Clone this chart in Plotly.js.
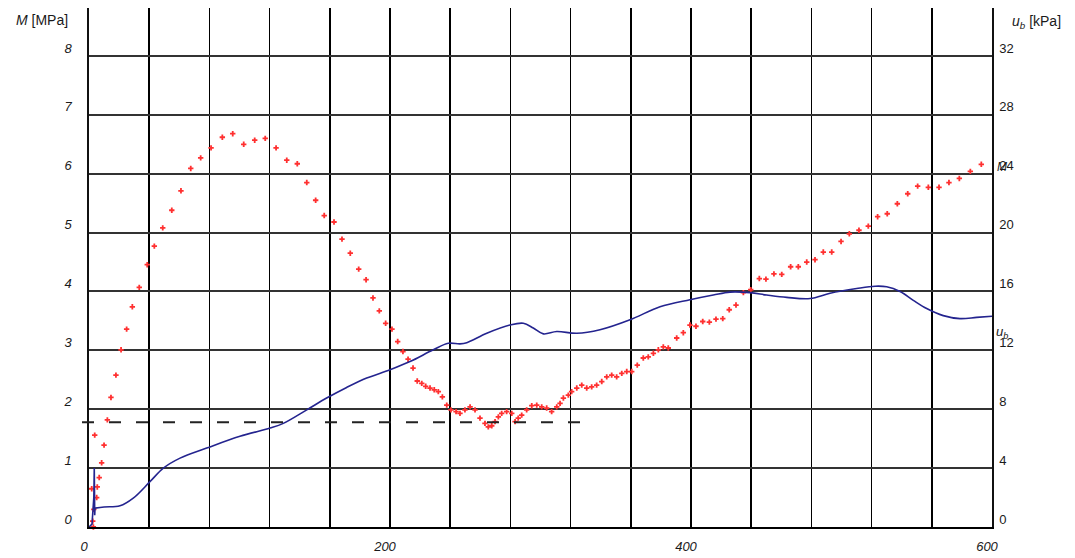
<!DOCTYPE html>
<html>
<head>
<meta charset="utf-8">
<script src="https://cdn.plot.ly/plotly-3.0.1.min.js"></script>
<style>html,body{margin:0;padding:0;background:#fff;}#chart{width:1075px;height:558px;}</style>
</head>
<body>
<div id="chart"></div>
<script>
// M [MPa] measured points (red)
const mX = [1.8, 2.5, 2.9, 3.2, 3.8, 5.1, 5.5, 6.8, 8.4, 10.0, 12.2, 14.6, 17.9, 21.3, 25.0, 28.8, 33.4, 38.7, 43.4, 49.0, 55.0, 61.1, 67.6, 74.2, 81.1, 88.6, 95.5, 102.8, 110.1, 117.1, 124.3, 131.4, 138.4, 144.7, 150.6, 156.3, 162.8, 168.1, 173.6, 179.2, 184.1, 188.7, 192.9, 197.1, 201.3, 205.1, 208.6, 212.0, 215.3, 218.1, 221.1, 223.7, 226.6, 229.4, 232.1, 234.8, 237.7, 240.5, 243.9, 246.5, 249.8, 253.2, 256.5, 259.8, 263.1, 265.3, 267.6, 269.8, 272.0, 274.2, 277.5, 280.9, 283.1, 285.2, 287.5, 290.8, 294.2, 297.5, 300.8, 304.1, 307.4, 310.8, 313.0, 315.2, 318.5, 320.7, 324.1, 327.4, 330.7, 334.0, 337.3, 340.7, 344.0, 347.3, 350.6, 354.0, 357.3, 360.6, 364.3, 368.3, 371.6, 375.0, 378.3, 381.6, 384.9, 390.5, 394.9, 399.3, 403.3, 407.8, 412.2, 416.6, 421.1, 425.4, 429.9, 434.8, 439.7, 445.4, 449.8, 455.1, 460.3, 466.2, 471.3, 476.9, 482.4, 487.9, 493.5, 499.7, 505.2, 511.6, 517.8, 524.0, 530.4, 537.1, 544.0, 550.6, 557.7, 564.8, 571.4, 578.3, 585.6, 592.9, 600.5];
const mY = [0.65, 0.10, 0.00, 0.30, 1.56, 0.50, 0.68, 0.84, 1.09, 1.39, 1.82, 2.20, 2.58, 3.01, 3.36, 3.74, 4.07, 4.455, 4.77, 5.08, 5.38, 5.71, 6.09, 6.27, 6.44, 6.62, 6.68, 6.50, 6.57, 6.60, 6.44, 6.23, 6.17, 5.85, 5.55, 5.29, 5.18, 4.89, 4.65, 4.38, 4.20, 3.89, 3.67, 3.46, 3.36, 3.15, 2.98, 2.85, 2.70, 2.48, 2.44, 2.39, 2.36, 2.33, 2.30, 2.21, 2.07, 1.99, 1.96, 1.93, 1.99, 2.04, 1.99, 1.85, 1.76, 1.70, 1.72, 1.79, 1.87, 1.93, 1.96, 1.93, 1.79, 1.85, 1.90, 1.99, 2.06, 2.07, 2.04, 2.02, 1.96, 2.04, 2.10, 2.19, 2.24, 2.30, 2.36, 2.41, 2.36, 2.38, 2.41, 2.47, 2.55, 2.58, 2.55, 2.61, 2.64, 2.64, 2.75, 2.87, 2.89, 2.95, 3.01, 3.06, 3.04, 3.21, 3.30, 3.43, 3.41, 3.49, 3.48, 3.53, 3.54, 3.69, 3.77, 3.98, 4.03, 4.22, 4.21, 4.30, 4.29, 4.42, 4.42, 4.50, 4.54, 4.67, 4.67, 4.85, 4.98, 5.04, 5.11, 5.27, 5.32, 5.49, 5.66, 5.79, 5.77, 5.77, 5.85, 5.92, 6.04, 6.16, 6.35];

// u_b [kPa] (blue line, right axis)
const ubX = [0, 2, 3.2, 3.5, 3.8, 4.0, 10, 20.6, 29.4, 40.5, 49.4, 60.5, 78.2, 100.3, 120.3, 129.1, 144.7, 157.9, 171.2, 184.5, 200.0, 213.3, 228.8, 238.7, 246.5, 251.0, 264.3, 279.7, 288.6, 295.2, 301.9, 310.8, 324.1, 339.5, 359.5, 379.4, 399.3, 414.8, 425.9, 439.2, 450.3, 463.6, 479.1, 492.4, 510.1, 522.3, 530.0, 538.9, 547.7, 556.6, 567.6, 578.7, 589.8, 600];
const ubY = [0, 0.2, 2.0, 4.0, 0.8, 1.28, 1.36, 1.44, 1.96, 3.08, 4.0, 4.68, 5.36, 6.16, 6.72, 7.04, 7.96, 8.76, 9.48, 10.12, 10.68, 11.24, 12.04, 12.48, 12.44, 12.52, 13.16, 13.72, 13.84, 13.52, 13.12, 13.28, 13.16, 13.4, 14.08, 14.96, 15.44, 15.76, 15.96, 15.92, 15.76, 15.6, 15.52, 15.88, 16.2, 16.36, 16.32, 16.0, 15.4, 14.84, 14.36, 14.16, 14.24, 14.32];
const ubSpikeEnd = 6; // first points: initial spike (straight segments)

// reference level (dashed)
const refLevel = 1.78;
const refXEnd = 330;

const xTicks = [0, 200, 400, 600];
const yTicks = [0, 1, 2, 3, 4, 5, 6, 7, 8];
const y2Ticks = [0, 4, 8, 12, 16, 20, 24, 28, 32];

const yMax = 8.815;
const L = 89, R = 992, T = 8, B = 527;
const px = v => (v - L) / (R - L);
const py = v => (B - v) / (B - T);

const blue = '#24248f';
const traces = [
  {x: ubX.slice(0, ubSpikeEnd), y: ubY.slice(0, ubSpikeEnd), yaxis: 'y2', mode: 'lines', type: 'scatter',
   line: {color: blue, width: 1.6}, cliponaxis: false, showlegend: false},
  {x: ubX.slice(ubSpikeEnd - 1), y: ubY.slice(ubSpikeEnd - 1), yaxis: 'y2', mode: 'lines', type: 'scatter',
   line: {color: blue, width: 1.6, shape: 'spline', smoothing: 1}, cliponaxis: false, showlegend: false},
  {x: mX, y: mY, mode: 'markers', type: 'scatter',
   marker: {symbol: 'cross', size: 4.5, color: '#ff3030', line: {width: 0}},
   cliponaxis: false, showlegend: false}
];

const tickFont = {family: 'Liberation Sans, Arial, sans-serif', size: 13, color: '#1a1a1a'};
const annFont = {family: 'Liberation Sans, Arial, sans-serif', size: 14, color: '#1a1a1a'};

const layout = {
  width: 1075, height: 558,
  margin: {l: L, r: 1075 - R, t: T, b: 558 - B, pad: 0},
  paper_bgcolor: '#fff', plot_bgcolor: '#fff',
  showlegend: false,
  xaxis: {
    range: [0, 600], tickvals: xTicks, ticktext: xTicks.map(v => '<i>' + v + '</i>'),
    showgrid: true, gridcolor: '#000', gridwidth: 1.6,
    minor: {dtick: 40, tick0: 0, showgrid: true, gridcolor: '#000', gridwidth: 1.6, ticks: ''},
    zeroline: false, showline: true, linecolor: '#000', linewidth: 2,
    ticks: '', tickfont: tickFont, ticklabelshift: -5, ticklabelstandoff: 6
  },
  yaxis: {
    range: [0, yMax], tickvals: yTicks, ticktext: yTicks.map(v => '<i>' + v + '</i>'),
    showgrid: true, gridcolor: '#333', gridwidth: 2,
    zeroline: false, showline: true, linecolor: '#111', linewidth: 1.6,
    ticks: '', tickfont: tickFont, ticklabelshift: -8, ticklabelstandoff: 13
  },
  yaxis2: {
    range: [0, yMax * 4], tickvals: y2Ticks, overlaying: 'y', side: 'right',
    showgrid: false, zeroline: false, showline: true, linecolor: '#111', linewidth: 1.6,
    ticks: '', tickfont: tickFont, ticklabelshift: -8, ticklabelstandoff: 3
  },
  shapes: [
    {type: 'line', xref: 'paper', yref: 'paper', x0: px(82), x1: px(L + refXEnd * (R - L) / 600),
     y0: refLevel / yMax, y1: refLevel / yMax, line: {color: '#222', width: 2, dash: '12px,15px'}}
  ],
  annotations: [
    {xref: 'paper', yref: 'paper', x: px(42), y: py(20), xanchor: 'center', yanchor: 'middle',
     text: '<i>M</i> [MPa]', showarrow: false, font: annFont},
    {xref: 'paper', yref: 'paper', x: px(1036), y: py(22), xanchor: 'center', yanchor: 'middle',
     text: '<i>u<sub>b</sub></i> [kPa]', showarrow: false, font: annFont},
    {xref: 'paper', yref: 'paper', x: px(995), y: py(167), xanchor: 'left', yanchor: 'middle',
     text: '<i>M</i>', showarrow: false, font: {family: annFont.family, size: 12, color: '#1a1a1a'}},
    {xref: 'paper', yref: 'paper', x: px(994), y: py(332), xanchor: 'left', yanchor: 'middle',
     text: '<i>u<sub>b</sub></i>', showarrow: false, font: {family: annFont.family, size: 13, color: '#1a1a1a'}}
  ]
};

Plotly.newPlot('chart', traces, layout, {displayModeBar: false, staticPlot: true});
</script>
</body>
</html>
